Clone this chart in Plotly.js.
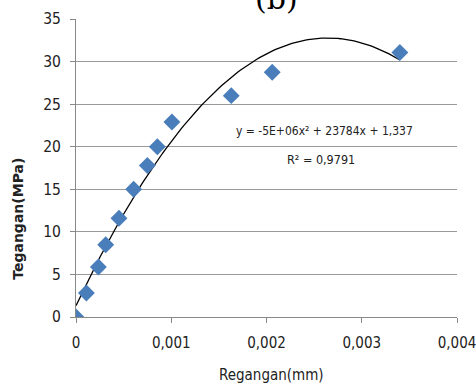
<!DOCTYPE html>
<html>
<head>
<meta charset="utf-8">
<script src="https://cdn.plot.ly/plotly-3.0.1.min.js"></script>
<style>html,body{margin:0;padding:0;background:#fff;}#chart{width:476px;height:389px;}</style>
</head>
<body>
<div id="chart"></div>
<script>
// Data
const strain = [0, 0.000109, 0.000235, 0.000312, 0.000451, 0.000605, 0.000749, 0.000854, 0.001007, 0.00163, 0.00206, 0.0034];
const stress = [0, 2.82, 5.87, 8.49, 11.6, 15.0, 17.8, 20.0, 22.9, 26.0, 28.75, 31.06];
// Polynomial trendline coefficients (a x^2 + b x + c), as drawn
const trendCoef = [-4.5e6, 23784, 1.337];
const trendLabel = "y = -5E+06x² + 23784x + 1,337";
const r2Label = "R² = 0,9791";
const xTicks = [0, 0.001, 0.002, 0.003, 0.004];
const xTickText = ["0", "0,001", "0,002", "0,003", "0,004"];
const yTicks = [0, 5, 10, 15, 20, 25, 30, 35];

const xmax = strain[strain.length - 1];
const tx = [], ty = [];
const N = 120;
for (let i = 0; i <= N; i++) {
  const x = xmax * i / N;
  tx.push(x);
  ty.push(trendCoef[0] * x * x + trendCoef[1] * x + trendCoef[2]);
}

const fontMain = "DejaVu Sans Condensed, Liberation Sans Narrow, Arial, sans-serif";

const data = [
  {x: tx, y: ty, mode: 'lines', type: 'scatter', line: {color: '#000', width: 1.3}, hoverinfo: 'skip', showlegend: false},
  {x: strain, y: stress, mode: 'markers', type: 'scatter',
   marker: {symbol: 'diamond', size: 13, color: '#4a7ebb', line: {width: 0}}, showlegend: false}
];

const layout = {
  width: 476, height: 389,
  margin: {l: 76, r: 19, t: 19, b: 72},
  paper_bgcolor: '#fff', plot_bgcolor: '#fff',
  separators: ',.',
  font: {family: fontMain, size: 15, color: '#222'},
  xaxis: {
    range: [0, 0.004], tickvals: xTicks, ticktext: xTickText,
    showgrid: false, zeroline: false, showline: true, linecolor: '#888', linewidth: 1,
    ticks: 'outside', ticklen: 5, tickcolor: '#888', ticklabelstandoff: 7, ticklabeloverflow: 'allow',
    tickfont: {size: 15, family: fontMain, color: '#222'}
  },
  yaxis: {
    range: [0, 35], tickvals: yTicks,
    showgrid: true, gridcolor: '#999', gridwidth: 1, zeroline: false,
    showline: true, linecolor: '#888', linewidth: 1,
    ticks: 'outside', ticklen: 5, tickcolor: '#888', ticklabelstandoff: 6,
    tickfont: {size: 15.5, family: fontMain, color: '#222'}
  },
  shapes: [
    {type: 'rect', xref: 'paper', yref: 'paper', x0: 0.4226, x1: 0.6325, y0: 0.975, y1: 1.07,
     fillcolor: '#fff', line: {width: 0}, layer: 'above'}
  ],
  annotations: [
    {text: '(b)', xref: 'paper', yref: 'paper', x: 0.525, y: 1.005, xanchor: 'center', yanchor: 'bottom',
     showarrow: false, font: {family: 'DejaVu Serif, Liberation Serif, serif', size: 30, color: '#000'}},
    {text: 'Regangan(mm)', xref: 'paper', yref: 'paper', x: 0.513, y: -0.195, xanchor: 'center', yanchor: 'middle',
     showarrow: false, font: {size: 15, family: fontMain, color: '#222'}},
    {text: '<b>Tegangan(MPa)</b>', xref: 'paper', yref: 'paper', x: -0.152, y: 0.33, xanchor: 'center', yanchor: 'middle',
     textangle: -90, showarrow: false, font: {size: 14, family: 'DejaVu Sans, Arial, sans-serif', color: '#222'}},
    {text: trendLabel, xref: 'x', yref: 'y', x: 0.00261, y: 21.9, xanchor: 'center', yanchor: 'middle',
     showarrow: false, font: {size: 12, family: fontMain, color: '#222'}},
    {text: r2Label, xref: 'x', yref: 'y', x: 0.00257, y: 18.5, xanchor: 'center', yanchor: 'middle',
     showarrow: false, font: {size: 12.5, family: fontMain, color: '#222'}}
  ]
};

Plotly.newPlot('chart', data, layout, {displayModeBar: false, staticPlot: true});
</script>
</body>
</html>
